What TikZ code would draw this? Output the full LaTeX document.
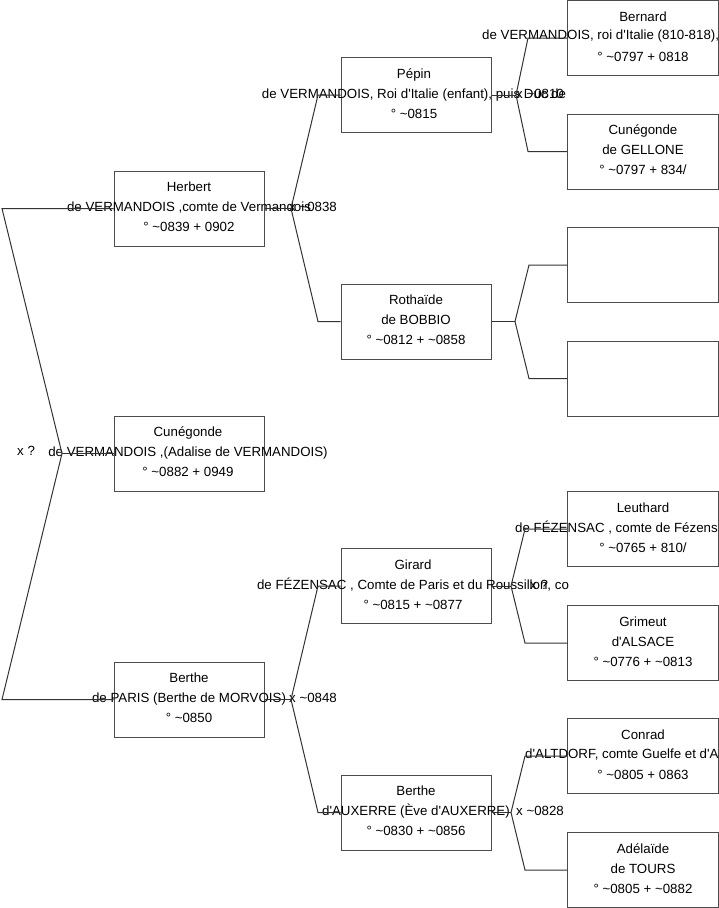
\documentclass[tikz,border=0pt]{standalone}
\usepackage{fontspec}
\newfontfamily\arialf{Liberation Sans}
\begin{document}
\begin{tikzpicture}[x=1pt,y=-1pt,
  box/.style={draw=black!70,line width=1pt,minimum width=150pt,minimum height=75pt,inner sep=0pt},
  txt/.style={font=\arialf\fontsize{13.3}{20}\selectfont,align=center,inner sep=0pt},
  lbl/.style={font=\arialf\fontsize{13.3}{16}\selectfont,inner sep=0pt,anchor=west},
  con/.style={draw=black!80,line width=1pt}]
\useasboundingbox (0,0) rectangle (719,908);
\clip (0,0) rectangle (719,908);
% boxes column 1
\node[box] (herbert) at (189,208.5) {};
\node[box] (cuneg) at (189,453.5) {};
\node[box] (berthe) at (189,699.5) {};
% column 2
\node[box] (pepin) at (416,95) {};
\node[box] (rothaide) at (416,321.5) {};
\node[box] (girard) at (416,586) {};
\node[box] (bertheA) at (416,812.5) {};
% column 3
\node[box,minimum width=151pt] (bernard) at (643,38) {};
\node[box,minimum width=151pt] (cunegG) at (643,151.5) {};
\node[box,minimum width=151pt] (emptyA) at (643,265) {};
\node[box,minimum width=151pt] (emptyB) at (643,378.5) {};
\node[box,minimum width=151pt] (leuthard) at (643,529) {};
\node[box,minimum width=151pt] (grimeut) at (643,643) {};
\node[box,minimum width=151pt] (conrad) at (643,756) {};
\node[box,minimum width=151pt] (adelaide) at (643,870) {};
% texts
\node[txt] (herbert-t) at (189,207) {Herbert\\de VERMANDOIS ,comte de Vermandois\\° \textasciitilde0839 + 0902};
\node[txt] (cuneg-t) at (188,452) {Cunégonde\\de VERMANDOIS ,(Adalise de VERMANDOIS)\\° \textasciitilde0882 + 0949};
\node[txt] (berthe-t) at (189,698) {Berthe\\de PARIS (Berthe de MORVOIS)\\° \textasciitilde0850};
\node[txt] (pepin-t) at (414,93.5) {Pépin\\de VERMANDOIS, Roi d'Italie (enfant), puis Duc de\\° \textasciitilde0815};
\node[txt] (rothaide-t) at (416,320) {Rothaïde\\de BOBBIO\\° \textasciitilde0812 + \textasciitilde0858};
\node[txt] (girard-t) at (413,584.5) {Girard\\de FÉZENSAC , Comte de Paris et du Roussillon, co\\° \textasciitilde0815 + \textasciitilde0877};
\node[txt] (bertheA-t) at (416,811) {Berthe\\d'AUXERRE (Ève d'AUXERRE)\\° \textasciitilde0830 + \textasciitilde0856};
\node[txt] (bernard-t) at (643,36.5) {Bernard\\\mbox{}\\° \textasciitilde0797 + 0818};
\node[lbl] (bernard-l2) at (482,36.5) {de VERMANDOIS, roi d'Italie (810-818),};
\node[txt] (cunegG-t) at (643,150) {Cunégonde\\de GELLONE\\° \textasciitilde0797 + 834/};
\node[txt] (leuthard-t) at (643,527.5) {Leuthard\\\mbox{}\\° \textasciitilde0765 + 810/};
\node[lbl] (leuthard-l2) at (515,527.5) {de FÉZENSAC , comte de Fézens};
\node[txt] (grimeut-t) at (643,641.5) {Grimeut\\d'ALSACE\\° \textasciitilde0776 + \textasciitilde0813};
\node[txt] (conrad-t) at (643,754.5) {Conrad\\\mbox{}\\° \textasciitilde0805 + 0863};
\node[lbl] (conrad-l2) at (525,754.5) {d'ALTDORF, comte Guelfe et d'A};
\node[txt] (adelaide-t) at (643,868.5) {Adélaïde\\de TOURS\\° \textasciitilde0805 + \textasciitilde0882};
% marriage labels
\node[lbl] (m0) at (17,451) {x ?};
\node[lbl] (m1) at (289,207) {x \textasciitilde0838};
\node[lbl] (m2) at (289,698) {x \textasciitilde0848};
\node[lbl] (m3) at (516,93.5) {x \textasciitilde0810};
\node[lbl] (m4) at (530,584.5) {x ?};
\node[lbl] (m5) at (516,811) {x \textasciitilde0828};
% connector points
\coordinate (f0) at (62,453.5);
\coordinate (c0a) at (2,208.5);
\coordinate (c0b) at (2,699.5);
\coordinate (f1) at (291,208.5);
\coordinate (c1a) at (318,95);
\coordinate (c1b) at (318,321.5);
\coordinate (f2) at (291,699.5);
\coordinate (c2a) at (318,586);
\coordinate (c2b) at (318,812.5);
\coordinate (f3) at (516,95);
\coordinate (c3a) at (528,38);
\coordinate (c3b) at (528,151.5);
\coordinate (f4) at (515,321.5);
\coordinate (c4a) at (529,265);
\coordinate (c4b) at (529,378.5);
\coordinate (f5) at (511,586);
\coordinate (c5a) at (525,529);
\coordinate (c5b) at (525,643);
\coordinate (f6) at (511,812.5);
\coordinate (c6a) at (525,756);
\coordinate (c6b) at (525,870);
% connectors
\draw[con] (cuneg.west) -- (f0);
\draw[con] (f0) -- (c0a) -- (herbert.west);
\draw[con] (f0) -- (c0b) -- (berthe.west);
\draw[con] (herbert.east) -- (f1);
\draw[con] (f1) -- (c1a) -- (pepin.west);
\draw[con] (f1) -- (c1b) -- (rothaide.west);
\draw[con] (berthe.east) -- (f2);
\draw[con] (f2) -- (c2a) -- (girard.west);
\draw[con] (f2) -- (c2b) -- (bertheA.west);
\draw[con] (pepin.east) -- (f3);
\draw[con] (f3) -- (c3a) -- (bernard.west);
\draw[con] (f3) -- (c3b) -- (cunegG.west);
\draw[con] (rothaide.east) -- (f4);
\draw[con] (f4) -- (c4a) -- (emptyA.west);
\draw[con] (f4) -- (c4b) -- (emptyB.west);
\draw[con] (girard.east) -- (f5);
\draw[con] (f5) -- (c5a) -- (leuthard.west);
\draw[con] (f5) -- (c5b) -- (grimeut.west);
\draw[con] (bertheA.east) -- (f6);
\draw[con] (f6) -- (c6a) -- (conrad.west);
\draw[con] (f6) -- (c6b) -- (adelaide.west);
\end{tikzpicture}
\end{document}
